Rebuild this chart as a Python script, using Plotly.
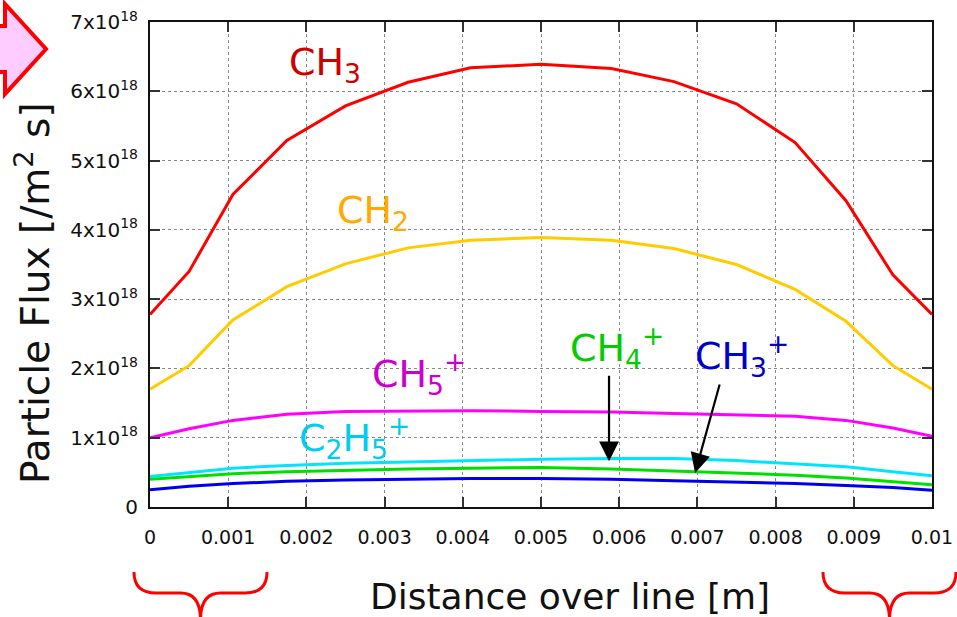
import plotly.graph_objects as go

# ---- data (flux values in units of 1e18 /m^2 s) ----
x_pos = [0, 0.0005, 0.00106, 0.00175, 0.0025, 0.0033, 0.0041, 0.005,
         0.0059, 0.0067, 0.0075, 0.00825, 0.0089, 0.0095, 0.01]
ch3 = [2.78, 3.40, 4.51, 5.29, 5.79, 6.13, 6.34, 6.39, 6.33, 6.14, 5.82, 5.26, 4.42, 3.35, 2.78]
ch2 = [1.70, 2.04, 2.70, 3.18, 3.51, 3.74, 3.85, 3.89, 3.85, 3.73, 3.50, 3.14, 2.68, 2.04, 1.70]
ch5p = [1.00, 1.13, 1.25, 1.34, 1.38, 1.39, 1.39, 1.38, 1.37, 1.35, 1.33, 1.31, 1.25, 1.14, 1.02]
c2h5p = [0.44, 0.50, 0.56, 0.60, 0.63, 0.65, 0.67, 0.69, 0.70, 0.70, 0.67, 0.62, 0.58, 0.51, 0.45]
ch4p = [0.40, 0.44, 0.48, 0.51, 0.53, 0.55, 0.56, 0.57, 0.55, 0.52, 0.49, 0.46, 0.42, 0.37, 0.32]
ch3p = [0.25, 0.30, 0.34, 0.37, 0.39, 0.40, 0.41, 0.41, 0.40, 0.38, 0.36, 0.34, 0.31, 0.28, 0.24]
SCALE = 1e18

x_ticks = [0, 0.001, 0.002, 0.003, 0.004, 0.005, 0.006, 0.007, 0.008, 0.009, 0.01]
x_ticktext = ["0", "0.001", "0.002", "0.003", "0.004", "0.005", "0.006", "0.007", "0.008", "0.009", "0.01"]
y_ticks = [0, 1, 2, 3, 4, 5, 6, 7]
y_ticktext = ["0"] + [f"{v}x10<sup>18</sup>" for v in y_ticks[1:]]

series = [
    ("CH3", ch3, "#ff0000"),
    ("CH2", ch2, "#ffcc00"),
    ("CH5+", ch5p, "#ff00ff"),
    ("C2H5+", c2h5p, "#00e5ff"),
    ("CH4+", ch4p, "#00e000"),
    ("CH3+", ch3p, "#0000ee"),
]

W, H = 957, 617
L, R, T, B = 150, 25, 22, 110
PW, PH = W - L - R, H - T - B


def px(x):
    return (x - L) / PW


def py(y):
    return (H - B - y) / PH


FONT = "DejaVu Sans"

fig = go.Figure()
for name, vals, col in series:
    fig.add_trace(go.Scatter(x=x_pos, y=[v * SCALE for v in vals], mode="lines",
                             name=name, line=dict(color=col, width=3)))

axis_common = dict(showline=True, linecolor="#111", linewidth=2, mirror="ticks",
                   ticks="inside", ticklen=10, tickwidth=1.5, tickcolor="#333",
                   showgrid=True, gridcolor="#888", griddash="dot", gridwidth=1,
                   zeroline=False)

fig.update_xaxes(range=[0, 0.01], tickmode="array", tickvals=x_ticks, ticktext=x_ticktext,
                 ticklabelstandoff=12, tickfont=dict(family=FONT, size=19, color="#111"),
                 **axis_common)
fig.update_yaxes(range=[0, 7 * SCALE], tickmode="array", tickvals=[v * SCALE for v in y_ticks],
                 ticktext=y_ticktext, ticklabelstandoff=6,
                 tickfont=dict(family=FONT, size=20, color="#111"), **axis_common)

annotations = []
labels = [
    ("CH<sub>3</sub>", 287, 64, "#cc0000"),
    ("CH<sub>2</sub>", 335, 212, "#ffaa00"),
    ("CH<sub>5</sub><sup>+</sup>", 370, 373, "#cc00cc"),
    ("C<sub>2</sub>H<sub>5</sub><sup>+</sup>", 297, 437, "#00ccee"),
    ("CH<sub>4</sub><sup>+</sup>", 568, 347, "#00cc00"),
    ("CH<sub>3</sub><sup>+</sup>", 693, 355, "#0000cc"),
]
for txt, lx, ly, col in labels:
    annotations.append(dict(text=txt, xref="paper", yref="paper", x=px(lx), y=py(ly),
                            xanchor="left", yanchor="middle", showarrow=False,
                            font=dict(family=FONT, size=38, color=col)))

# arrows
annotations.append(dict(text="", xref="x", yref="y", x=0.00587, y=0.66 * SCALE,
                        ax=0, ay=-87, showarrow=True, arrowhead=2, arrowsize=1.8,
                        arrowwidth=2.2, arrowcolor="#000", standoff=0))
annotations.append(dict(text="", xref="x", yref="y", x=0.00697, y=0.49 * SCALE,
                        ax=25, ay=-90, showarrow=True, arrowhead=2, arrowsize=1.8,
                        arrowwidth=2.2, arrowcolor="#000", standoff=0))

# axis titles
annotations.append(dict(text="Distance over line [m]", xref="paper", yref="paper",
                        x=px(570), y=py(596), xanchor="center", yanchor="middle",
                        showarrow=False, font=dict(family=FONT, size=36, color="#111")))
annotations.append(dict(text="Particle Flux [/m<sup>2</sup> s]", xref="paper", yref="paper",
                        x=px(33), y=py(293), xanchor="center", yanchor="middle", textangle=-90,
                        showarrow=False, font=dict(family=FONT, size=39, color="#111")))

shapes = []


def path_from(points, close=False):
    s = ""
    for cmd, *pts in points:
        s += cmd + " " + " ".join(f"{px(a):.5f},{py(b):.5f}" for a, b in pts) + " "
    if close:
        s += "Z"
    return s


# pink arrow at top-left
arrow_pts = [("M", (-20, 26)), ("L", (5, 26)), ("L", (5, 4)), ("L", (46, 49)),
             ("L", (5, 94)), ("L", (5, 72)), ("L", (-20, 72))]
shapes.append(dict(type="path", xref="paper", yref="paper", path=path_from(arrow_pts, True),
                   fillcolor="#ffccff", line=dict(color="#ff0000", width=4), layer="above"))


def brace(x0, x1, ytop=572, ymid=593, ytip=620):
    xm = (x0 + x1) / 2
    pts = [("M", (x0, ytop)), ("Q", (x0, ymid), (x0 + 22, ymid)), ("L", (xm - 20, ymid)),
           ("Q", (xm, ymid), (xm, ytip)), ("M", (x1, ytop)), ("Q", (x1, ymid), (x1 - 22, ymid)),
           ("L", (xm + 20, ymid)), ("Q", (xm, ymid), (xm, ytip))]
    return path_from(pts)


shapes.append(dict(type="path", xref="paper", yref="paper", path=brace(134, 267),
                   line=dict(color="#ff0000", width=3)))
shapes.append(dict(type="path", xref="paper", yref="paper", path=brace(823, 956),
                   line=dict(color="#ff0000", width=3)))

fig.update_layout(width=W, height=H, margin=dict(l=L, r=R, t=T, b=B, autoexpand=False),
                  plot_bgcolor="white", paper_bgcolor="white", showlegend=False,
                  annotations=annotations, shapes=shapes)

fig.write_html("out.html")
